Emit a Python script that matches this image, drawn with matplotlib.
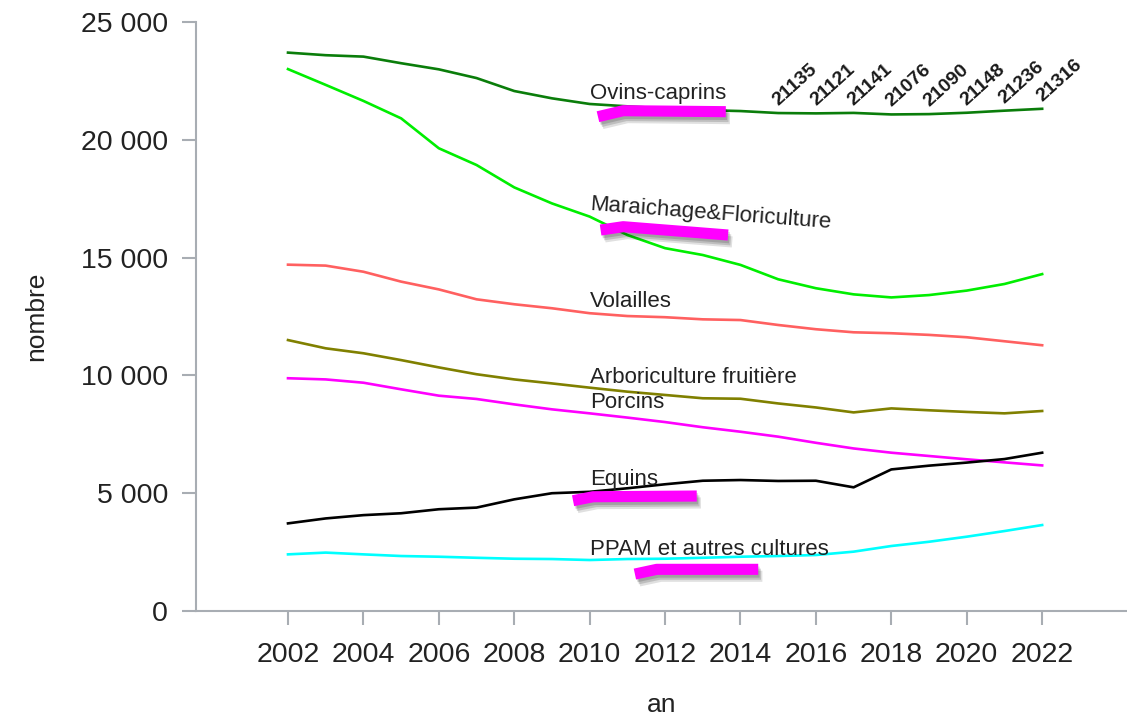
import matplotlib
matplotlib.use("Agg")
import matplotlib.pyplot as plt
import matplotlib.patheffects as pe
from matplotlib.ticker import FuncFormatter, MultipleLocator

plt.rcParams['font.family'] = ['Liberation Sans', 'DejaVu Sans']

# ---------------- data ----------------
years = list(range(2002, 2023))
ovins_caprins = [23700, 23590, 23530, 23250, 22990, 22620, 22070, 21760, 21520, 21420,
                 21330, 21260, 21220, 21135, 21121, 21141, 21076, 21090, 21148, 21236, 21316]
maraichage = [23000, 22330, 21650, 20910, 19640, 18930, 17980, 17300, 16740, 15960,
              15400, 15110, 14690, 14080, 13700, 13440, 13310, 13410, 13600, 13880, 14300]
volailles = [14700, 14660, 14400, 13980, 13650, 13230, 13020, 12850, 12640, 12520,
             12470, 12380, 12350, 12140, 11960, 11830, 11790, 11720, 11620, 11450, 11280]
arboriculture = [11500, 11150, 10940, 10650, 10340, 10050, 9830, 9660, 9480, 9310,
                 9170, 9030, 9010, 8810, 8640, 8430, 8600, 8520, 8450, 8390, 8490]
porcins = [9880, 9830, 9690, 9410, 9140, 9000, 8770, 8560, 8390, 8210,
           8020, 7800, 7610, 7400, 7140, 6900, 6720, 6580, 6440, 6310, 6180]
equins = [3720, 3930, 4070, 4150, 4320, 4390, 4740, 5000, 5060, 5210,
          5380, 5530, 5560, 5520, 5530, 5250, 6010, 6170, 6300, 6450, 6720]
ppam = [2405, 2480, 2405, 2335, 2305, 2260, 2220, 2207, 2165, 2207,
        2220, 2260, 2305, 2335, 2377, 2520, 2760, 2940, 3155, 3395, 3650]

series_names = ["Ovins-caprins", "Maraichage&Floriculture", "Volailles",
                "Arboriculture fruitière", "Porcins", "Equins", "PPAM et autres cultures"]
series_values = [ovins_caprins, maraichage, volailles, arboriculture, porcins, equins, ppam]
series_colors = ["#0a7d0a", "#00ee00", "#ff6060", "#808000", "#ff00ff", "#000000", "#00ffff"]

# labelled values on the Ovins-caprins line
label_years = [2015, 2016, 2017, 2018, 2019, 2020, 2021, 2022]
x_ticks = list(range(2002, 2023, 2))

# ---------------- figure ----------------
fig = plt.figure(figsize=(11.27, 7.16), dpi=100)
ax = fig.add_axes([0.1739, 0.1466, 0.8261, 0.8227])
ax.set_xlim(1999.56, 2024.25)
ax.set_ylim(0, 25000)

for vals, col in zip(series_values, series_colors):
    ax.plot(years, vals, color=col, lw=1.9, zorder=3)

# series labels (placed near 2010)
label_pos = [(2010.0, 21720, 0), (2010.0, 17020, -4.3), (2010.0, 12890, 0),
             (2010.0, 9690, 0), (2010.0, 8605, 0), (2010.0, 5348, 0), (2010.0, 2377, 0)]
for name, (lx, ly, rot) in zip(series_names, label_pos):
    ax.text(lx, ly, name, fontsize=16, color="#222222", ha="left", va="baseline",
            rotation=rot, rotation_mode="anchor", zorder=5)

# value labels
for yr in label_years:
    v = ovins_caprins[years.index(yr)]
    ax.annotate(f"{v}", xy=(yr, v), xytext=(2, 3), textcoords="offset points",
                rotation=42, rotation_mode="anchor", ha="left", va="bottom",
                fontsize=14, fontweight="bold", color="#1a1a1a", zorder=5)

# magenta highlighter strokes
strokes = [
    ([2010.22, 2010.89, 2013.61], [20980, 21235, 21193]),
    ([2010.29, 2010.89, 2013.67], [16171, 16312, 15959]),
    ([2009.56, 2010.09, 2012.84], [4682, 4851, 4881]),
    ([2011.20, 2011.78, 2014.47], [1570, 1770, 1770]),
]
for sx, sy in strokes:
    ax.plot(sx, sy, color="#ff00ff", lw=8, solid_capstyle="butt", zorder=6,
            path_effects=[pe.SimpleLineShadow(offset=(3, -5), shadow_color="black", alpha=0.12),
                          pe.SimpleLineShadow(offset=(2, -3.5), shadow_color="black", alpha=0.15),
                          pe.SimpleLineShadow(offset=(1, -2), shadow_color="black", alpha=0.15),
                          pe.Normal()])

# axes styling
for s in ["top", "right"]:
    ax.spines[s].set_visible(False)
for s in ["left", "bottom"]:
    ax.spines[s].set_color("#a8adb3")
    ax.spines[s].set_linewidth(1.5)

ax.set_xticks(x_ticks)
ax.yaxis.set_major_locator(MultipleLocator(5000))
ax.yaxis.set_major_formatter(FuncFormatter(lambda v, p: f"{int(v):,}".replace(",", " ")))
ax.tick_params(axis="both", direction="out", color="#a8adb3", width=1.5,
               labelsize=20.5, labelcolor="#222222")
ax.tick_params(axis="y", length=10, pad=10)
ax.tick_params(axis="x", length=10, pad=12)

ax.set_ylabel("nombre", fontsize=19, color="#222222", labelpad=24)
ax.set_xlabel("an", fontsize=19, color="#222222", labelpad=18)

fig.savefig("out.png", dpi=100)
